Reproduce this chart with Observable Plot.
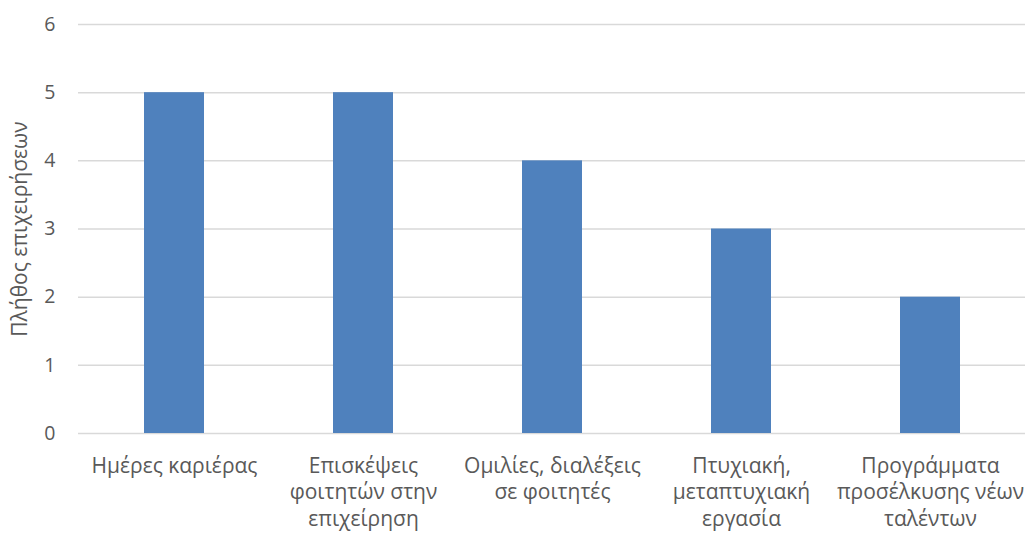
<!DOCTYPE html>
<html>
<head>
<meta charset="utf-8">
<script src="https://cdn.jsdelivr.net/npm/d3@7"></script>
<script src="https://cdn.jsdelivr.net/npm/@observablehq/plot@0.6"></script>
<style>
  html, body { margin: 0; padding: 0; background: #fff; }
  #chart svg { display: block; }
</style>
</head>
<body>
<div id="chart"></div>
<script>
const categories = [
  "Ημέρες καριέρας",
  "Επισκέψεις φοιτητών στην επιχείρηση",
  "Ομιλίες, διαλέξεις σε φοιτητές",
  "Πτυχιακή, μεταπτυχιακή εργασία",
  "Προγράμματα προσέλκυσης νέων ταλέντων"
];
const tickLabels = [
  "Ημέρες καριέρας",
  "Επισκέψεις\nφοιτητών στην\nεπιχείρηση",
  "Ομιλίες, διαλέξεις\nσε φοιτητές",
  "Πτυχιακή,\nμεταπτυχιακή\nεργασία",
  "Προγράμματα\nπροσέλκυσης νέων\nταλέντων"
];
const values = [5, 5, 4, 3, 2];
const yTicks = [0, 1, 2, 3, 4, 5, 6];
const yTitle = "Πλήθος επιχειρήσεων";

const data = categories.map((c, i) => ({category: c, value: values[i]}));
const labelOf = new Map(categories.map((c, i) => [c, tickLabels[i]]));

const textColor = "#595959";
const gridColor = "#d9d9d9";

const chart = Plot.plot({
  width: 1026,
  height: 533,
  marginLeft: 78,
  marginRight: 1,
  marginTop: 24,
  marginBottom: 100,
  style: {fontFamily: "'Open Sans', sans-serif", fontSize: "19px", color: textColor, background: "#fff"},
  x: {domain: categories, paddingInner: 0.683, paddingOuter: 0.3415, label: null},
  y: {domain: [0, 6], ticks: yTicks, label: null},
  marks: [
    Plot.gridY(yTicks, {stroke: gridColor, strokeOpacity: 1, strokeWidth: 1.5}),
    Plot.barY(data, {x: "category", y: "value", fill: "#4f81bd"}),
    Plot.axisY(yTicks, {tickSize: 0, tickPadding: 23, fill: textColor, fontSize: 19.5, tickFormat: d => String(d)}),
    Plot.axisX({tickSize: 0, tickPadding: 21, fill: textColor, fontSize: 21, lineHeight: 1.25, tickFormat: d => labelOf.get(d)}),
    Plot.text([yTitle], {frameAnchor: "left", dx: -58, rotate: -90, textAnchor: "middle", fill: textColor, fontSize: 21, text: d => d})
  ]
});
document.getElementById("chart").appendChild(chart);
</script>
</body>
</html>
